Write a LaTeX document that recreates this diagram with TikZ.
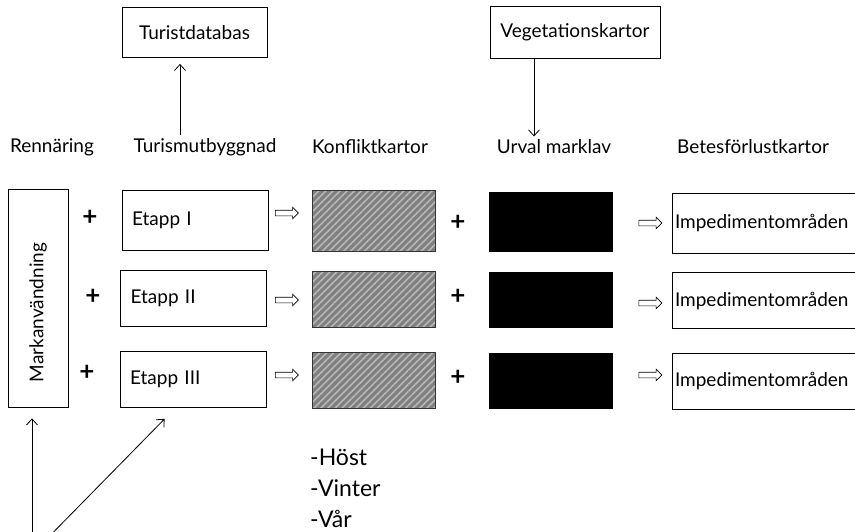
\documentclass[tikz,border=0pt]{standalone}
\usepackage{fontspec}
\setmainfont{Lato}
\usetikzlibrary{patterns.meta,shapes.arrows,arrows.meta}

\begin{document}
\begin{tikzpicture}[x=1pt, y=-1pt, >={Straight Barb[length=6pt,width=11pt]},
    every node/.style={font=\fontsize{19}{23}\selectfont},
    box/.style={draw, line width=0.8pt, text width=126, inner xsep=10pt,
      align=left, minimum height=56},
    topbox/.style={draw, line width=0.8pt, inner xsep=4pt, minimum height=50},
    hatch/.style={fill=black!50, minimum width=123, minimum height=56,
      postaction={pattern={Lines[angle=45,distance=5pt,line width=1.6pt]},
      pattern color=black!28}, postaction={draw, line width=0.9pt, black!80}},
    dark/.style={fill=black, minimum width=124, minimum height=56},
    impbox/.style={draw, line width=0.8pt, text width=194, inner xsep=3pt,
      align=left, minimum height=56},
    hollow/.style={draw, single arrow, line width=0.6pt, minimum height=23,
      single arrow head extend=3pt, inner xsep=0pt, inner ysep=2.5pt},
    plus/.style={font=\fontsize{26}{28}\selectfont\bfseries}]
  \clip (0,0) rectangle (855,531);
  \node[topbox, minimum width=145] (tdb) at (194.5,32.5) {Turistdatabas};
  \node[topbox, minimum width=170, minimum height=52] (veg) at (575,32) {Vegetationskartor};
  \node (h1) at (52,147) {Rennäring};
  \node (h2) at (205,147) {Turismutbyggnad};
  \node (h3) at (370,147) {Konfliktkartor};
  \node (h4) at (554,147) {Urval marklav};
  \node (h5) at (753,147) {Betesförlustkartor};
  \node[draw, line width=0.8pt, rotate=90, text width=168, inner xsep=25pt,
    align=left, minimum height=60] (mark) at (38,298) {Markanvändning};
  \node[box, minimum height=60] (e1) at (195,220) {Etapp I};
  \node[box] (e2) at (193.5,298.5) {Etapp II};
  \node[box] (e3) at (193,379.5) {Etapp III};
  \node[hatch, minimum height=61] (k1) at (373.5,220.5) {};
  \node[hatch] (k2) at (373.5,299.5) {};
  \node[hatch] (k3) at (373.5,380) {};
  \node[dark, minimum height=60] (u1) at (551,222) {};
  \node[dark] (u2) at (551,300) {};
  \node[dark] (u3) at (551,381) {};
  \node[impbox, minimum height=60] (i1) at (772,223) {Impedimentområden};
  \node[impbox] (i2) at (772,300.5) {Impedimentområden};
  \node[impbox] (i3) at (772,381) {Impedimentområden};
  \node[plus] (p1) at (90,218) {+};
  \node[plus] (p2) at (93,297) {+};
  \node[plus] (p3) at (87,373) {+};
  \node[plus] (q1) at (458,223) {+};
  \node[plus] (q2) at (458,297) {+};
  \node[plus] (q3) at (458,378) {+};
  \node[hollow] (a1) at (285.5,213) {};
  \node[hollow] (a2) at (285.5,300) {};
  \node[hollow] (a3) at (285.5,375) {};
  \node[hollow] (b1) at (649,223) {};
  \node[hollow] (b2) at (649,303) {};
  \node[hollow] (b3) at (649,375) {};
  \node[align=left, anchor=north west, inner sep=0pt,
    font=\fontsize{23}{31}\selectfont] (seasons) at (310,449) {-Höst\\-Vinter\\-Vår};
  \coordinate (src) at (32,554);
  \draw[->, line width=0.8pt] ([xshift=-25]h2.north) -- ([xshift=-14.5,yshift=-6]tdb.south);
  \draw[->, line width=0.8pt] ([xshift=-41]veg.south) -- ([xshift=-20]h4.north);
  \draw[->, line width=0.8pt] (src) -- ([xshift=-6,yshift=-11]mark.west);
  \draw[->, line width=0.8pt] (src) -- ([xshift=45,yshift=-11]e3.south west);
\end{tikzpicture}
\end{document}
